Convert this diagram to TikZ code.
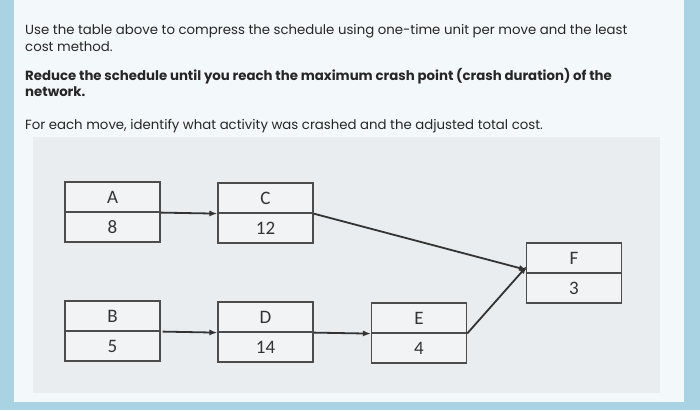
\documentclass[tikz,border=0pt]{standalone}
\usepackage{fontspec}
\setmainfont{Poppins}
\newfontfamily\boxfont{Carlito}
\usetikzlibrary{arrows.meta}
\definecolor{bgblue}{HTML}{A9D3E3}
\definecolor{card}{HTML}{F3F8FA}
\definecolor{panel}{HTML}{E9EDF0}
\definecolor{cellc}{HTML}{F2F3F4}
\begin{document}
\begin{tikzpicture}[x=1pt,y=-1pt,
  txt/.style={anchor=west,inner sep=0pt,font=\fontsize{13.3}{15}\selectfont,text=black!85},
  cell/.style={draw=black!70,line width=1.2pt,fill=cellc,minimum width=95pt,minimum height=30pt,inner sep=0pt,font=\boxfont\fontsize{19}{21}\selectfont,text=black!80},
  arr/.style={draw=black!80,line width=1.8pt,-{Latex[length=8pt,width=6pt]}}]
\useasboundingbox (0,0) rectangle (700,410);
\fill[bgblue] (0,0) rectangle (700,410);
\fill[card] (14,0) rectangle (684,402);
\fill[panel] (33,137) rectangle (660,393);
\node[txt] (t1) at (25,31) {Use the table above to compress the schedule using one-time unit per move and the least};
\node[txt] (t2) at (25,47) {cost method.};
\node[txt,font=\bfseries\fontsize{13.3}{15}\selectfont] (t3) at (25,76) {Reduce the schedule until you reach the maximum crash point (crash duration) of the};
\node[txt,font=\bfseries\fontsize{13.3}{15}\selectfont] (t4) at (25,92) {network.};
\node[txt] (t5) at (25,126) {For each move, identify what activity was crashed and the adjusted total cost.};
\node[cell] (A1) at (112.5,197) {A};
\node[cell] (A2) at (112.5,227) {8};
\node[cell] (C1) at (265.5,198) {C};
\node[cell] (C2) at (265.5,228) {12};
\node[cell] (F1) at (574,258) {F};
\node[cell] (F2) at (574,288) {3};
\node[cell] (B1) at (112.5,316) {B};
\node[cell] (B2) at (112.5,346) {5};
\node[cell] (D1) at (265.5,317) {D};
\node[cell] (D2) at (265.5,347) {14};
\node[cell] (E1) at (419,318) {E};
\node[cell] (E2) at (419,348) {4};
\coordinate (fin) at (527,270);
\draw[arr] (A1.south east) -- (C1.south west);
\draw[arr] (C1.south east) -- (fin);
\draw[arr] ([xshift=2pt]B1.south east) -- (D1.south west);
\draw[arr] (D1.south east) -- (E1.south west);
\draw[arr] (E1.south east) -- ([yshift=4pt]fin);
\end{tikzpicture}
\end{document}
